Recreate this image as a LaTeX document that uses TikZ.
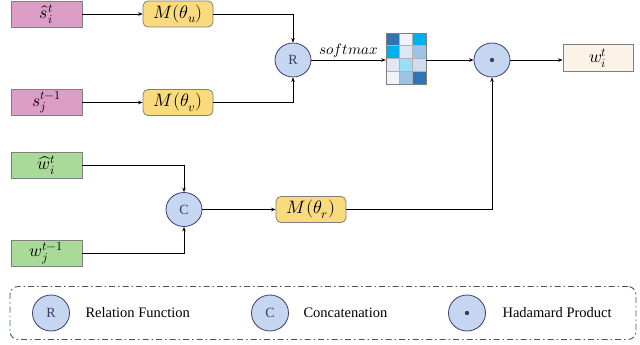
\documentclass[tikz,border=0pt]{standalone}
\usepackage{fontspec}
\usepackage{unicode-math}
\setmainfont{Liberation Serif}
\setmathfont{Latin Modern Math}
\usetikzlibrary{shapes.geometric,arrows.meta,calc}
\definecolor{boxline}{HTML}{7F7F7F}
\definecolor{pinkfill}{HTML}{DC9EC6}
\definecolor{greenfill}{HTML}{A9DA97}
\definecolor{yellowfill}{HTML}{F9DA7C}
\definecolor{outfill}{HTML}{FDF2E8}
\definecolor{opfill}{HTML}{C5D7F0}
\definecolor{opline}{HTML}{3F3A6E}
\definecolor{legendline}{HTML}{44546A}
\definecolor{cA}{HTML}{2E75B6}
\definecolor{cB}{HTML}{F0F4FA}
\definecolor{cC}{HTML}{00B0F0}
\definecolor{cD}{HTML}{DEE7F3}
\definecolor{cE}{HTML}{9DC3E6}
\definecolor{cF}{HTML}{99DEF6}
\definecolor{cG}{HTML}{D0DCEE}
\begin{document}
\begin{tikzpicture}[x=1pt,y=-1pt,
  box/.style={draw=boxline, line width=0.8pt, minimum width=71pt, minimum height=26pt, inner sep=0pt, font=\fontsize{17.5}{19}\selectfont},
  pinkbox/.style={box, fill=pinkfill},
  greenbox/.style={box, fill=greenfill},
  mbox/.style={box, fill=yellowfill, rounded corners=5pt, minimum width=70pt, font=\fontsize{18}{20}\selectfont},
  outbox/.style={box, fill=outfill, minimum width=70pt, minimum height=27pt},
  op/.style={ellipse, draw=opline, fill=opfill, line width=0.8pt, minimum width=36pt, minimum height=34pt, inner sep=0pt, text=opline, font=\fontsize{14}{16}\selectfont},
  conn/.style={draw, line width=0.8pt, -{Stealth[length=4.5pt,width=3.5pt]}},
  legtext/.style={anchor=west, font=\fontsize{14.5}{16}\selectfont},
  cell/.style={draw=boxline!60, line width=0.3pt},
]
\useasboundingbox (0,0) rectangle (640,345);
% inputs
\node[pinkbox] (si) at (46.5,14) {$\hat{s}_i^{t}$};
\node[pinkbox] (sj) at (46.5,102.5) {$s_j^{t-1}$};
\node[greenbox] (wi) at (46.5,165) {$\widehat{w}_i^{t}$};
\node[greenbox] (wj) at (46.5,253) {$w_j^{t-1}$};
% mlps
\node[mbox] (mu) at (178,14) {$M(\theta_u)$};
\node[mbox] (mv) at (178,102.5) {$M(\theta_v)$};
\node[mbox] (mr) at (311,209.5) {$M(\theta_r)$};
% ops
\node[op] (R) at (293,60) {R};
\node[op] (C) at (184,209.5) {C};
\node[op] (H) at (492,60) {};
\fill[opline] (H.center) circle (2.2pt);
% attention matrix
\node[minimum width=40pt, minimum height=51pt, inner sep=0pt] (att) at (406,58.5) {};
\foreach \r/\cols in {0/{cA,cB,cC},1/{cC,cD,cE},2/{cD,cF,cG},3/{cB,cE,cA}}{
  \foreach \c [count=\i from 0] in \cols {
    \fill[\c] ($(att.north west)+(\i*13.333,\r*12.75)$) rectangle ++(13.333,12.75);
  }
}
\foreach \i in {1,2} \draw[cell] ($(att.north west)+(\i*13.333,0)$) -- ++(0,51);
\foreach \r in {1,2,3} \draw[cell] ($(att.north west)+(0,\r*12.75)$) -- ++(40,0);
\draw[boxline, line width=0.5pt] (att.north west) rectangle (att.south east);
% output
\node[outbox] (wo) at (598,58) {$w_i^{t}$};
% connectors
\draw[conn] (si) -- (mu);
\draw[conn] (sj) -- (mv);
\draw[conn] (mu.east) -| (R.north);
\draw[conn] (mv.east) -| (R.south);
\draw[conn] (R.east) -- node[above, font=\fontsize{15}{17}\selectfont, inner sep=2pt] {$softmax$} (R.east -| att.west);
\draw[conn] (R.east -| att.east) -- (H.west);
\draw[conn] (H.east) -- (wo.west |- H.east);
\draw[conn] (wi.east) -| (C.north);
\draw[conn] (wj.east) -| (C.south);
\draw[conn] (C.east) -- (mr.west);
\draw[conn] (mr.east) -| (H.south);
% legend
\node[draw=legendline, line width=0.9pt, dash pattern=on 6pt off 3pt on 1.5pt off 3pt, rounded corners=8pt, minimum width=626pt, minimum height=53pt] (legend) at (323,313) {};
\node[op, minimum width=37pt, minimum height=36pt] (lR) at (51,313) {R};
\node[legtext] (tR) at (82,313) {Relation Function};
\node[op, minimum width=37pt, minimum height=36pt] (lC) at (270,313) {C};
\node[legtext] (tC) at (300,313) {Concatenation};
\node[op, minimum width=37pt, minimum height=36pt] (lH) at (467,313) {};
\fill[opline] (lH.center) circle (2.2pt);
\node[legtext] (tH) at (499,313) {Hadamard Product};
\end{tikzpicture}
\end{document}
